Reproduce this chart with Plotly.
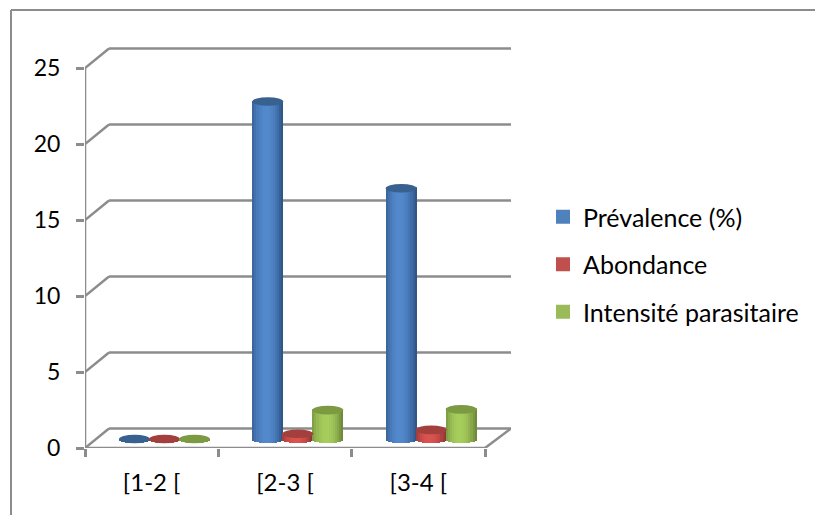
import math
import plotly.graph_objects as go

categories = ["[1-2 [", "[2-3 [", "[3-4 ["]
prevalence = [0, 22.2, 16.5]
abondance = [0, 0.35, 0.6]
intensite = [0, 1.9, 1.95]
series_names = ["Prévalence (%)", "Abondance", "Intensité parasitaire"]
y_ticks = [0, 5, 10, 15, 20, 25]

side_colors = ["#4F81BD", "#C0504D", "#9BBB59"]
edge_colors = ["#2F5688", "#8C3533", "#6E8A3A"]
mid_colors = ["#5288CC", "#D9534F", "#A6CC5C"]
cap_colors = ["#38618F", "#A33F3C", "#7C9A42"]
GREY = "#8C8C8C"
FONT = "Lato"
FS_Y = 23
FS_X = 24
FS_LEG = 25

# pixel frame of the plot area
L, R, T, B = 85, 511, 47, 448
PX_X = 400 / 3          # px per category
PX_Y = 380 / 25         # px per unit
x_max = (R - L) / PX_X
y_max = (B - T) / PX_Y
DX, DY = 24 / PX_X, 19.5 / PX_Y       # depth of the box
BASE = 9 / PX_Y                        # floor level of the cylinders
HH = 4.3 / PX_Y                        # half height of ellipses
STEP = 30 / PX_X
WID = 31 / PX_X
FIRST = (134.5 - L) / PX_X
STRIPS = 15


def hex2rgb(h):
    return [int(h[i:i + 2], 16) for i in (1, 3, 5)]


def mix(a, b, t):
    a, b = hex2rgb(a), hex2rgb(b)
    return "rgb(%d,%d,%d)" % tuple(round(a[i] + (b[i] - a[i]) * t) for i in range(3))


def pxX(px):
    return (px - L) / (R - L)


def pxY(py):
    return (B - py) / (B - T)


all_series = [prevalence, abondance, intensite]
shapes = []
line = dict(color=GREY, width=2.5)

# box: back wall gridlines, depth diagonals, front axis
for v in y_ticks:
    shapes.append(dict(type="line", xref="x", yref="y", x0=0, y0=v, x1=DX, y1=v + DY, line=line, layer="below"))
    shapes.append(dict(type="line", xref="x", yref="y", x0=DX, y0=v + DY, x1=x_max, y1=v + DY, line=line, layer="below"))
shapes.append(dict(type="line", xref="x", yref="y", x0=0, y0=0, x1=0, y1=y_ticks[-1], line=line, layer="below"))
shapes.append(dict(type="line", xref="x", yref="y", x0=0, y0=0, x1=len(categories), y1=0, line=line, layer="below"))
shapes.append(dict(type="line", xref="x", yref="y", x0=len(categories), y0=0, x1=x_max, y1=DY, line=line, layer="below"))

# outer chart frame
frame = dict(color="#8C8C8C", width=2)
shapes.append(dict(type="line", xref="paper", yref="paper", x0=pxX(11), y0=pxY(10), x1=pxX(815), y1=pxY(10), line=frame))
shapes.append(dict(type="line", xref="paper", yref="paper", x0=pxX(11), y0=pxY(10), x1=pxX(11), y1=pxY(515), line=frame))

fig = go.Figure()
for s, vals in enumerate(all_series):
    xc = [i + FIRST + s * STEP for i in range(len(categories))]
    # plain bars carry the values and the legend entry
    fig.add_trace(go.Bar(
        x=xc, y=vals, base=[BASE] * len(vals), width=WID - 2 / PX_X,
        name=series_names[s], legendgroup=series_names[s],
        marker=dict(color=side_colors[s], line=dict(width=2, color=side_colors[s])),
    ))
    # vertical strips give the cylinder shading and rounded foot
    sx, sy, sb, sc, sw = [], [], [], [], []
    for i, v in enumerate(vals):
        for j in range(STRIPS):
            t = (j + 0.5) / STRIPS * 2 - 1
            foot = HH * math.sqrt(max(0, 1 - t * t))
            sx.append(xc[i] + t * WID / 2)
            sb.append(BASE - foot)
            sy.append(v + foot)
            sw.append(WID / STRIPS)
            sc.append(mix(mid_colors[s], edge_colors[s], min(1, abs(t + 0.1) ** 2.2)))
    fig.add_trace(go.Bar(
        x=sx, y=sy, base=sb, width=sw, showlegend=False, hoverinfo="skip",
        marker=dict(color=sc, line=dict(width=0)),
    ))
    for i, v in enumerate(vals):
        shapes.append(dict(type="circle", xref="x", yref="y",
                           x0=xc[i] - WID / 2, x1=xc[i] + WID / 2,
                           y0=BASE + v - HH, y1=BASE + v + HH,
                           fillcolor=cap_colors[s], line=dict(width=0), layer="above"))

fig.update_layout(
    width=815, height=515,
    margin=dict(l=L, r=815 - R, t=T, b=515 - B, autoexpand=False),
    paper_bgcolor="white", plot_bgcolor="rgba(0,0,0,0)",
    barmode="overlay", bargap=0,
    font=dict(family=FONT, size=FS_Y, color="#000000"),
    shapes=shapes,
    legend=dict(x=pxX(543), xanchor="left", y=pxY(194), yanchor="top",
                tracegroupgap=12, font=dict(family=FONT, size=FS_LEG),
                bgcolor="rgba(0,0,0,0)", itemclick=False, itemdoubleclick=False),
    xaxis=dict(range=[0, x_max], tickmode="array",
               tickvals=[i + 0.5 for i in range(len(categories))], ticktext=categories,
               ticks="", showgrid=False, zeroline=False, showline=False,
               ticklabelstandoff=18,
               minor=dict(tickmode="array", tickvals=list(range(len(categories) + 1)),
                          ticks="outside", ticklen=8, tickwidth=2.5, tickcolor=GREY, showgrid=False),
               tickfont=dict(family=FONT, size=FS_X)),
    yaxis=dict(range=[0, y_max], tickmode="array", tickvals=y_ticks,
               ticks="outside", ticklen=8, tickwidth=2.5, tickcolor=GREY,
               showgrid=False, zeroline=False, showline=False, ticklabelstandoff=11,
               tickfont=dict(family=FONT, size=FS_Y)),
)
fig.write_html("out.html", config={"displayModeBar": False},
               post_script="document.body.style.margin='0';")
